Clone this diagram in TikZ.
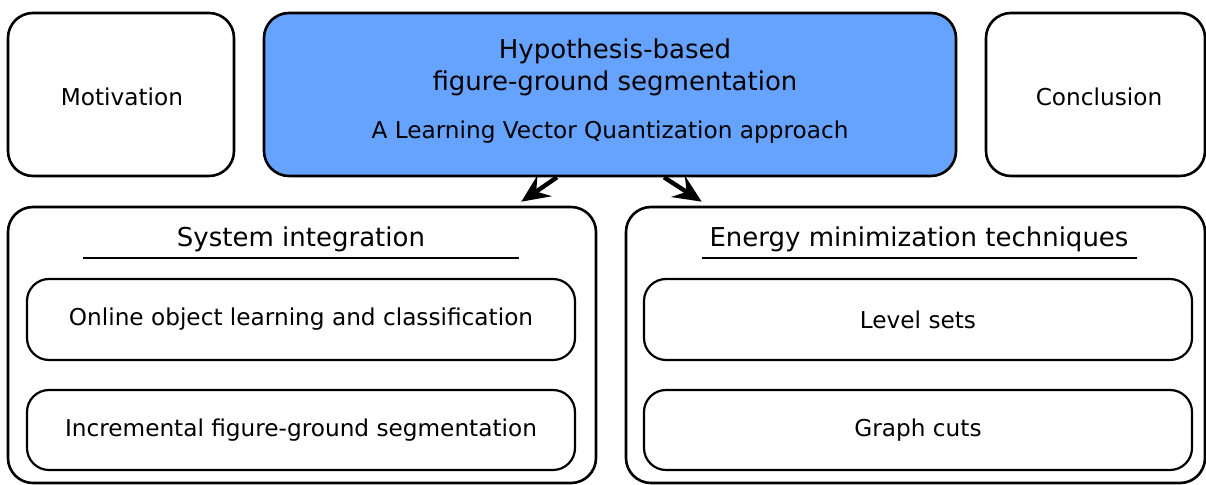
\documentclass[tikz,border=0pt]{standalone}
\usepackage{fontspec}
\setmainfont{DejaVu Sans}
\usetikzlibrary{arrows.meta}
\definecolor{topblue}{RGB}{102,163,255}
\tikzset{
  box/.style={draw=black, line width=1.3pt, rounded corners=12.5pt, fill=white, inner sep=0pt},
  subbox/.style={draw=black, line width=1.1pt, rounded corners=11pt, fill=white, inner sep=0pt,
                 minimum width=274pt, font=\fontsize{11.6}{13}\selectfont},
  label/.style={inner sep=0pt, font=\fontsize{11.6}{13}\selectfont},
  biglabel/.style={inner sep=0pt, font=\fontsize{13}{15}\selectfont},
  arr/.style={line width=2.2pt, -{Stealth[length=14pt, width=12.5pt, inset=5pt]}},
  rule/.style={line width=1.2pt}
}
\begin{document}
\begin{tikzpicture}[x=0.5pt, y=-0.5pt]
  \useasboundingbox (0,0) rectangle (1206,485);
  \begin{scope}
    \clip (0,0) rectangle (1206,485);
    % top row
    \node[box, minimum width=113pt, minimum height=81.5pt] (motiv) at (121,94.5) {};
    \node[label] (motivtext) at (122,96.5) {Motivation};
    \node[box, fill=topblue, minimum width=346pt, minimum height=81.5pt] (main) at (610,94.5) {};
    \node[biglabel] (t1) at (615,51) {Hypothesis-based};
    \node[biglabel] (t2) at (615,83) {figure-ground segmentation};
    \node[label] (t3) at (610,132) {A Learning Vector Quantization approach};
    \node[box, minimum width=109.5pt, minimum height=81.5pt] (concl) at (1095.5,94.5) {};
    \node[label] (concltext) at (1099,96.5) {Conclusion};

    % lower containers
    \node[box, minimum width=294pt, minimum height=138pt] (sys) at (302,345) {};
    \node[box, minimum width=289.5pt, minimum height=138pt] (energy) at (915.5,345) {};

    \node[biglabel] (systitle) at (301,239) {System integration};
    \draw[rule] (83,258) -- (519,258);
    \node[biglabel] (entitle) at (919,239) {Energy minimization techniques};
    \draw[rule] (702,258) -- (1137,258);

    \node[subbox, minimum height=40.5pt] (online) at (301,319.5) {Online object learning and classification};
    \node[subbox, minimum height=40pt] (incr) at (301,430) {Incremental figure-ground segmentation};
    \node[subbox, minimum height=40.5pt] (level) at (918,319.5) {Level sets};
    \node[subbox, minimum height=40pt] (graph) at (918,430) {Graph cuts};

    % connectors
    \draw[arr] ([xshift=-26.5pt]main.south) -- ([xshift=-38pt, yshift=2pt]sys.north east);
    \draw[arr] ([xshift=27pt]main.south) -- ([xshift=38.5pt, yshift=2pt]energy.north west);
  \end{scope}
\end{tikzpicture}
\end{document}
